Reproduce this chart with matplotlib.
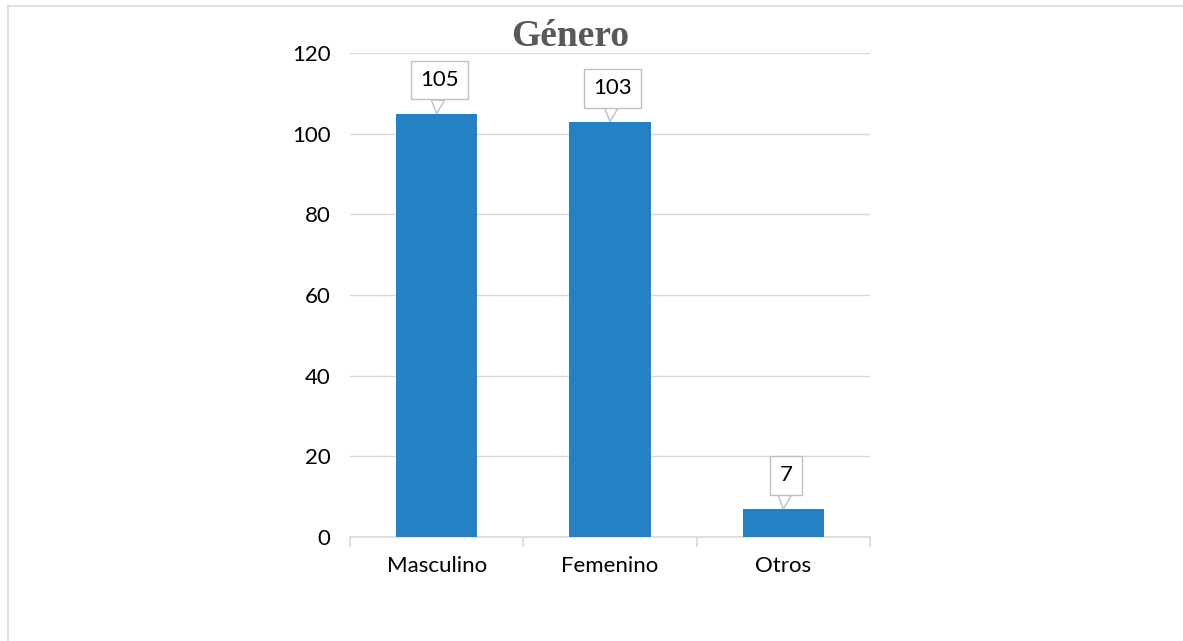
import matplotlib.pyplot as plt
from matplotlib.lines import Line2D

categorias = ['Masculino', 'Femenino', 'Otros']
valores = [105, 103, 7]
yticks = [0, 20, 40, 60, 80, 100, 120]

plt.rcParams['font.family'] = ['Lato', 'DejaVu Sans']

fig = plt.figure(figsize=(11.83, 6.41), dpi=100)
ax = fig.add_axes([350 / 1183, 1 - 537 / 641, 520 / 1183, 484 / 641])

x = range(len(categorias))
ax.bar(x, valores, width=0.47, color='#2581c4', zorder=3)

ax.set_xlim(-0.5, len(categorias) - 0.5)
ax.set_ylim(0, 120)
ax.set_yticks(yticks)
ax.grid(axis='y', color='#d9d9d9', linewidth=1, zorder=0)

for s in ['top', 'right', 'left']:
    ax.spines[s].set_visible(False)
ax.spines['bottom'].set_color('#d9d9d9')
ax.spines['bottom'].set_linewidth(1.2)

ax.set_xticks(list(x))
ax.set_xticklabels(categorias)
ax.set_xticks([i - 0.5 for i in range(len(categorias) + 1)], minor=True)
ax.tick_params(axis='x', which='major', length=0, pad=14, labelsize=16)
ax.tick_params(axis='x', which='minor', length=7, color='#d9d9d9', width=1.2)
ax.tick_params(axis='y', length=0, pad=14, labelsize=16)

for i, v in enumerate(valores):
    ax.annotate(str(v), xy=(i, v), xytext=(2, 24), textcoords='offset points',
                ha='center', va='center', fontsize=16, zorder=5,
                bbox=dict(boxstyle='square,pad=0.42', fc='white', ec='#bfbfbf', lw=1),
                arrowprops=dict(arrowstyle='wedge,tail_width=0.6,shrink_factor=0.5',
                                fc='white', ec='#bfbfbf', lw=1, shrinkA=0, shrinkB=0))

fig.text(570 / 1183, 1 - 37 / 641, 'Género', ha='center', va='center',
         fontsize=27, fontweight='bold', color='#595959',
         family=['Liberation Serif', 'DejaVu Serif'])

# marco del gráfico
fig.add_artist(Line2D([8 / 1183, 1], [1 - 6 / 641] * 2, color='#d9d9d9', lw=1.2,
                      transform=fig.transFigure))
fig.add_artist(Line2D([8 / 1183] * 2, [0, 1 - 6 / 641], color='#d9d9d9', lw=1.2,
                      transform=fig.transFigure))

fig.savefig('out.png', dpi=100)
